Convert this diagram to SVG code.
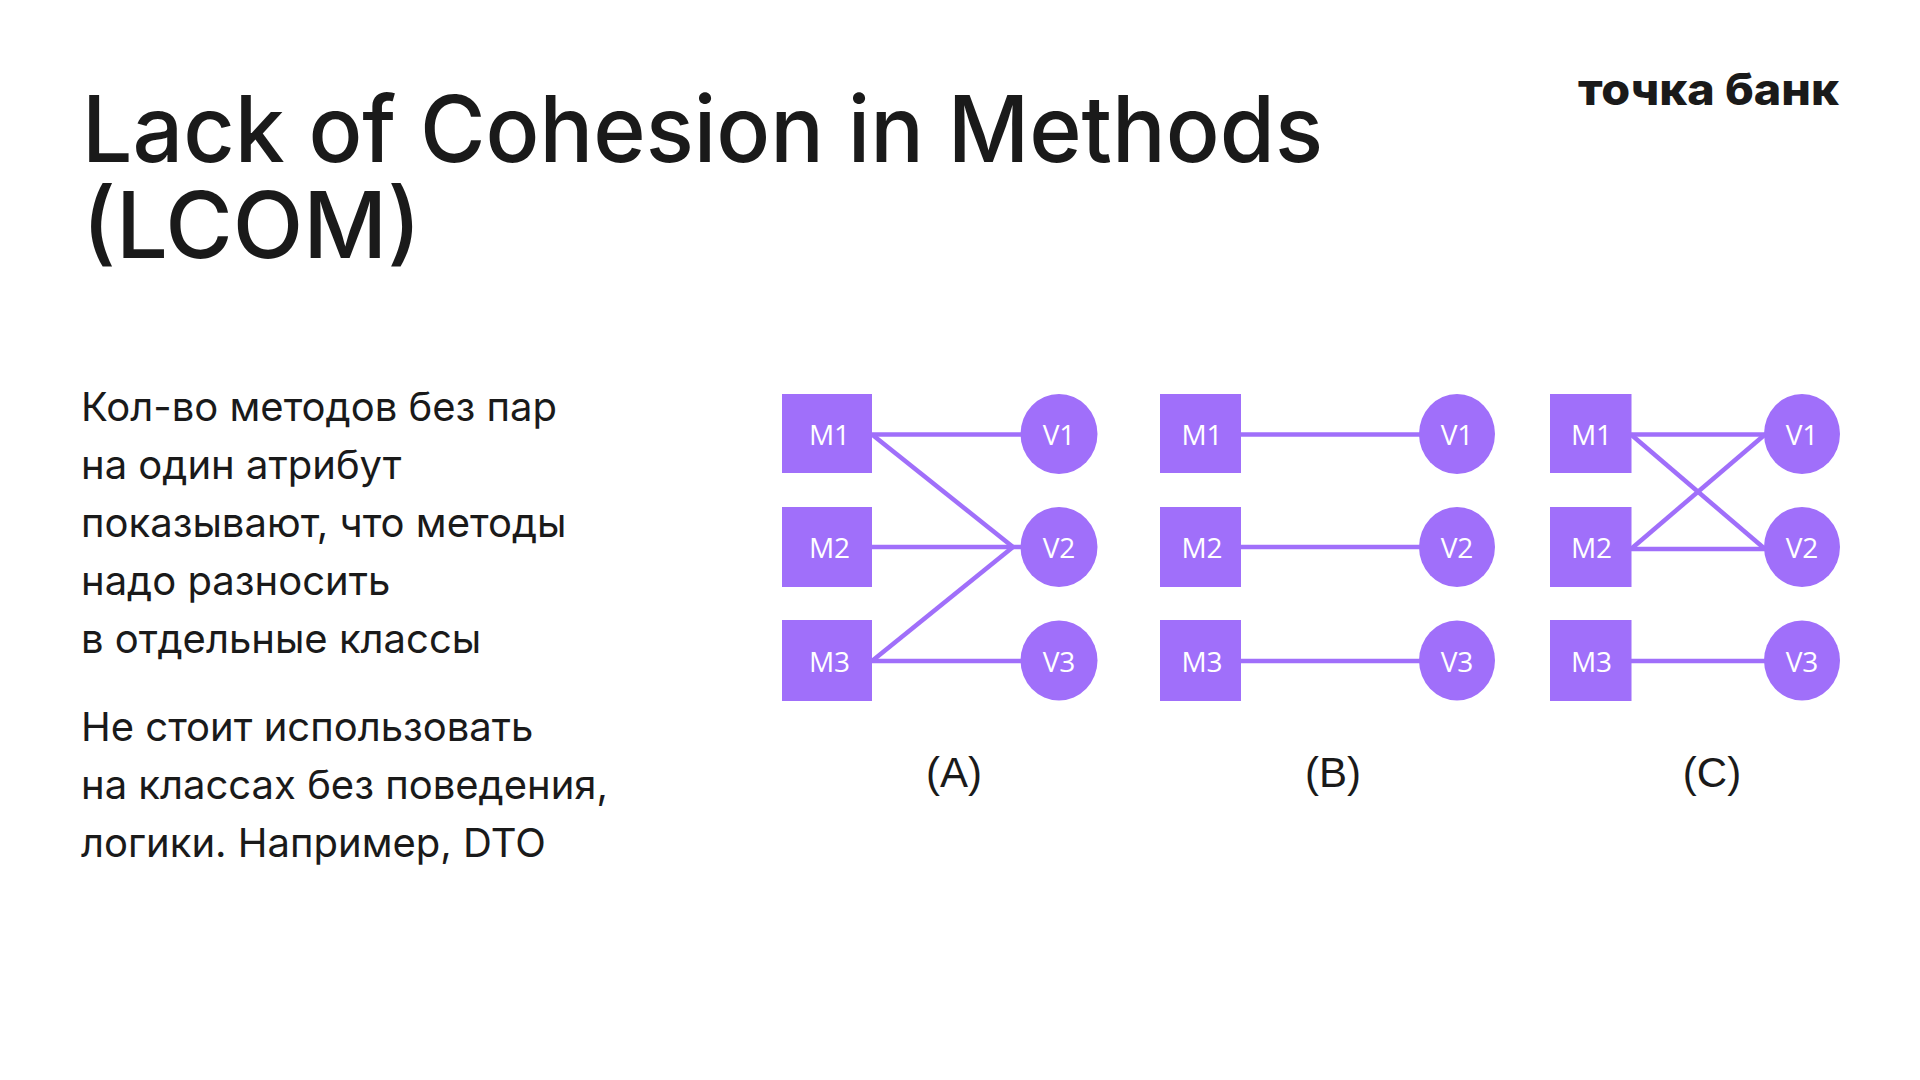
<svg xmlns="http://www.w3.org/2000/svg" width="1920" height="1080" viewBox="0 0 1920 1080">
<style>
.t{font-family:Inter,"Noto Sans",sans-serif;fill:#1a1a1a}
.h{font-size:92px;font-weight:500}
.b{font-size:40px;font-weight:400}
.logo{font-size:44px;font-weight:800}
.n rect,.n ellipse{fill:#a06ffa}
.n text{font-family:"Open Sans","Noto Sans",sans-serif;font-size:28px;fill:#fff;text-anchor:middle}
.c line{stroke:#a06ffa;stroke-width:4.5}
.cap{font-family:"Liberation Sans",Arial,sans-serif;font-size:42px;fill:#1a1a1a;text-anchor:middle}
</style>
<rect width="1920" height="1080" fill="#fff"/>
<g id="title" class="t h"><text x="82" y="162" textLength="1241" lengthAdjust="spacingAndGlyphs">Lack of Cohesion in Methods</text><text x="82" y="258">(LCOM)</text></g>
<text id="logo" class="t logo" x="1578" y="105" textLength="261" lengthAdjust="spacingAndGlyphs">точка банк</text>
<g id="body" class="t b">
<text x="81" y="421">Кол-во методов без пар</text>
<text x="81" y="479">на один атрибут</text>
<text x="81" y="537">показывают, что методы</text>
<text x="81" y="595">надо разносить</text>
<text x="81" y="653">в отдельные классы</text>
<text x="81" y="741">Не стоит использовать</text>
<text x="81" y="799">на классах без поведения,</text>
<text x="81" y="857">логики. Например, DTO</text>
</g>
<g id="connectors" class="c">
<line x1="872" y1="434.5" x2="1022" y2="434.5"/><line x1="872" y1="434.5" x2="1013" y2="547"/><line x1="872" y1="547" x2="1022" y2="547"/><line x1="872" y1="661" x2="1013" y2="547"/><line x1="872" y1="661" x2="1022" y2="661"/>
<line x1="1240" y1="434.5" x2="1421" y2="434.5"/><line x1="1240" y1="547" x2="1421" y2="547"/><line x1="1240" y1="661" x2="1421" y2="661"/>
<line x1="1631" y1="434.5" x2="1765" y2="434.5"/><line x1="1631" y1="434.5" x2="1765" y2="549"/><line x1="1631" y1="549" x2="1765" y2="434.5"/><line x1="1631" y1="549" x2="1765" y2="549"/><line x1="1631" y1="661" x2="1765" y2="661"/>
</g>
<g id="A-M1" class="n"><rect x="782" y="394" width="90" height="79"/><text x="829.5" y="445">M1</text></g>
<g id="A-M2" class="n"><rect x="782" y="507" width="90" height="80"/><text x="829.5" y="558">M2</text></g>
<g id="A-M3" class="n"><rect x="782" y="620" width="90" height="81"/><text x="829.5" y="672">M3</text></g>
<g id="A-V1" class="n"><ellipse cx="1059" cy="434" rx="38.5" ry="40"/><text x="1059" y="445">V1</text></g>
<g id="A-V2" class="n"><ellipse cx="1059" cy="547" rx="38.5" ry="40"/><text x="1059" y="558">V2</text></g>
<g id="A-V3" class="n"><ellipse cx="1059" cy="660.5" rx="38.5" ry="40"/><text x="1059" y="672">V3</text></g>
<text class="cap" x="954" y="787">(A)</text>
<g id="B-M1" class="n"><rect x="1160" y="394" width="81" height="79"/><text x="1202" y="445">M1</text></g>
<g id="B-M2" class="n"><rect x="1160" y="507" width="81" height="80"/><text x="1202" y="558">M2</text></g>
<g id="B-M3" class="n"><rect x="1160" y="620" width="81" height="81"/><text x="1202" y="672">M3</text></g>
<g id="B-V1" class="n"><ellipse cx="1457" cy="434" rx="38" ry="40"/><text x="1457" y="445">V1</text></g>
<g id="B-V2" class="n"><ellipse cx="1457" cy="547" rx="38" ry="40"/><text x="1457" y="558">V2</text></g>
<g id="B-V3" class="n"><ellipse cx="1457" cy="660.5" rx="38" ry="40"/><text x="1457" y="672">V3</text></g>
<text class="cap" x="1333" y="787">(B)</text>
<g id="C-M1" class="n"><rect x="1550" y="394" width="81.5" height="79"/><text x="1591.5" y="445">M1</text></g>
<g id="C-M2" class="n"><rect x="1550" y="507" width="81.5" height="80"/><text x="1591.5" y="558">M2</text></g>
<g id="C-M3" class="n"><rect x="1550" y="620" width="81.5" height="81"/><text x="1591.5" y="672">M3</text></g>
<g id="C-V1" class="n"><ellipse cx="1802" cy="434" rx="38" ry="40"/><text x="1802" y="445">V1</text></g>
<g id="C-V2" class="n"><ellipse cx="1802" cy="547" rx="38" ry="40"/><text x="1802" y="558">V2</text></g>
<g id="C-V3" class="n"><ellipse cx="1802" cy="660.5" rx="38" ry="40"/><text x="1802" y="672">V3</text></g>
<text class="cap" x="1712" y="787">(C)</text>
</svg>
